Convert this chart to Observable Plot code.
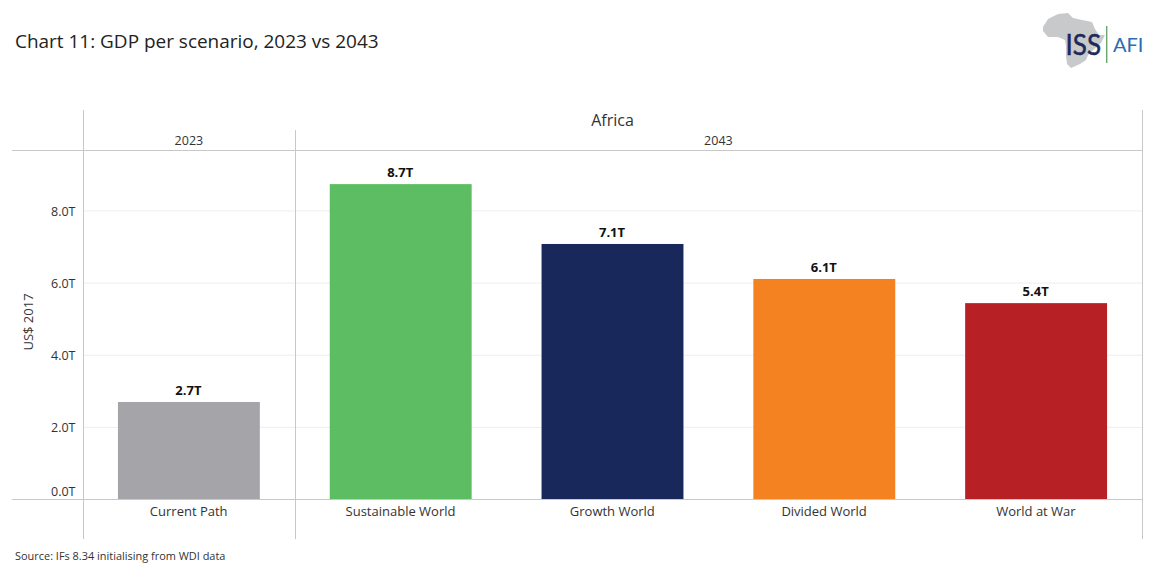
<!DOCTYPE html>
<html>
<head>
<meta charset="utf-8">
<script src="https://cdn.jsdelivr.net/npm/d3@7"></script>
<script src="https://cdn.jsdelivr.net/npm/@observablehq/plot@0.6"></script>
<style>
html,body{margin:0;padding:0;background:#fff;width:1155px;height:584px;overflow:hidden;font-family:"Open Sans",sans-serif;}
#title{position:absolute;left:15px;top:28px;font-size:18.97px;line-height:26px;color:#222;white-space:nowrap;}
#logo{position:absolute;left:1030px;top:0;}
#chart{position:absolute;left:0;top:99px;}
#source{position:absolute;left:15px;top:548px;font-size:10.95px;line-height:15px;color:#333;white-space:nowrap;}
</style>
</head>
<body>
<div id="title">Chart 11: GDP per scenario, 2023 vs 2043</div>
<svg id="logo" width="125" height="80" viewBox="1030 0 125 80">
  <path d="M1043,27 L1048,19 L1058,14 L1068,13 L1073,18 L1082,20 L1092,22 L1095,29 L1099,35 L1105,35 L1101,43 L1093,50 L1088,55 L1086,60 L1080,64 L1071,68 L1067,64 L1066,56 L1066,46 L1065,40 L1058,37 L1048,37 L1043,31 Z" fill="#c8c9cb"/>
  <text x="1065.5" y="55" font-family="Lato" font-size="28" textLength="35.5" lengthAdjust="spacingAndGlyphs" stroke="#1b2a5b" stroke-width="0.5" fill="#1b2a5b">ISS</text>
  <rect x="1106" y="26" width="1.4" height="37" fill="#6aa56f"/>
  <text x="1113" y="52" font-family="Lato" font-size="20" fill="#2a6db0">AFI</text>
</svg>
<div id="chart"></div>
<div id="source">Source: IFs 8.34 initialising from WDI data</div>
<script>
const scenarios = ["Current Path", "Sustainable World", "Growth World", "Divided World", "World at War"];
const years = ["2023", "2043", "2043", "2043", "2043"];
const gdpTrillions = [2.69, 8.73, 7.07, 6.1, 5.43];
const barColors = ["#a5a4a8", "#5cbd62", "#18285a", "#f58220", "#b72025"];
const yTicks = [0, 2, 4, 6, 8];
const headerTitle = "Africa";
const yLabel = "US$ 2017";

const rows = scenarios.map((scenario, i) => ({scenario, year: years[i], value: gdpTrillions[i]}));

const LINE = "#c8c8c8";
const TEXT = "#333";
const tickFormat = d => d3.format(".1f")(d) + "T";

function furniture(index, scales, values, dims) {
  const {marginLeft: l, marginRight: r, marginTop: t, marginBottom: b, width: w, height: h} = dims;
  const step = (w - l - r) / scenarios.length;
  const g = d3.create("svg:g");
  const divider = l + step;
  const right = w - r;
  const line = (x1, y1, x2, y2) => g.append("line").attr("x1", x1).attr("y1", y1).attr("x2", x2).attr("y2", y2)
    .attr("stroke", LINE).attr("stroke-width", 1);
  const snap = v => Math.round(v) + 0.5;
  line(snap(l), 11, snap(l), h);
  line(snap(divider), 31, snap(divider), h);
  line(snap(right), 11, snap(right), h);
  line(12, t + 0.5 , right, t + 0.5);
  line(12, h - b + 0.5, right, h - b + 0.5);
  const label = (s, x, y, size) => g.append("text").attr("x", x).attr("y", y).attr("text-anchor", "middle")
    .attr("dominant-baseline", "central").attr("font-size", size).attr("fill", TEXT).text(s);
  label(headerTitle, (l + right) / 2, 21, 16);
  label(years[0], l + step / 2, 41, 12.5);
  label(years[1], divider + (right - divider) / 2, 41, 12.5);
  return g.node();
}

const plot = Plot.plot({
  width: 1155,
  height: 440,
  marginLeft: 83,
  marginRight: 13,
  marginTop: 51,
  marginBottom: 40,
  style: {fontFamily: "'Open Sans', sans-serif", fontSize: "12px", color: TEXT, background: "transparent"},
  x: {domain: scenarios, paddingInner: 0.33, paddingOuter: 0.165, round: false, label: null, tickSize: 0},
  y: {domain: [0, 349 / 36.07], ticks: yTicks, label: null},
  color: {domain: scenarios, range: barColors},
  marks: [
    Plot.ruleY(yTicks.slice(1), {stroke: "#eeeeee", strokeWidth: 1, strokeOpacity: 1}),
    Plot.barY(rows, {x: "scenario", y: "value", fill: "scenario"}),
    furniture,
    Plot.text(rows, {x: "scenario", y: "value", text: d => d3.format(".1f")(d.value) + "T",
      dx: -1, dy: -12, fontWeight: 700, fontSize: 13, fill: "#111"}),
    Plot.axisY({ticks: yTicks.slice(1), tickFormat, tickSize: 0, tickPadding: 8, label: null, fontSize: 12.5, dy: 0.6}),
    Plot.axisY({ticks: yTicks.slice(0, 1), tickFormat, tickSize: 0, tickPadding: 8, label: null, fontSize: 12.5, dy: -8}),
    Plot.axisX({tickSize: 0, tickPadding: 7, label: null, fontSize: 13, dx: -0.7}),
    Plot.text([yLabel], {frameAnchor: "left", textAnchor: "middle", text: d => d, rotate: -90, dx: -55, dy: -3, fontSize: 13, fill: TEXT})
  ]
});
document.getElementById("chart").appendChild(plot);
</script>
</body>
</html>
